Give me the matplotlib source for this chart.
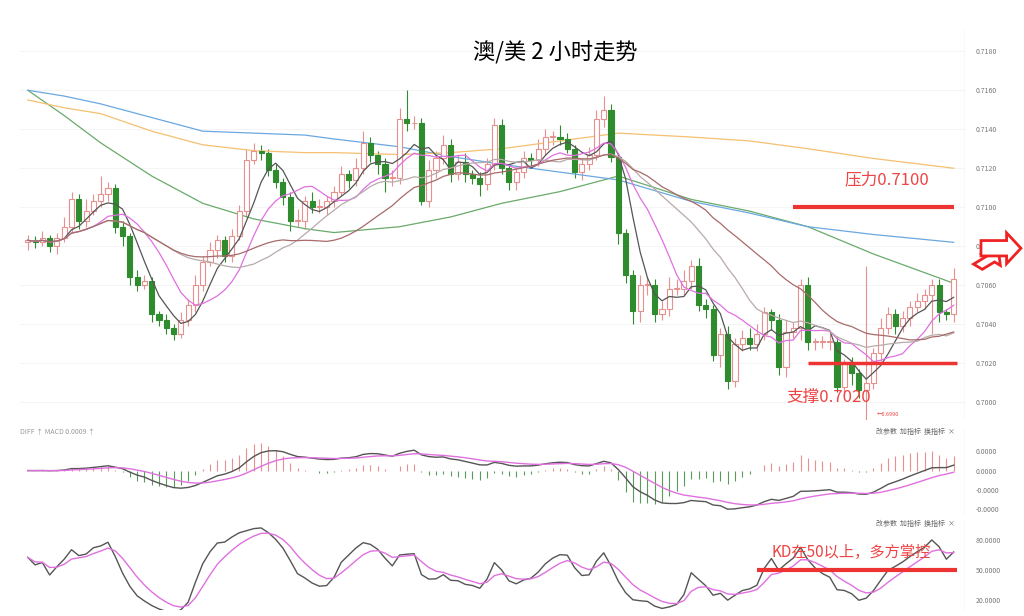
import numpy as np, pandas as pd
import matplotlib; matplotlib.use("Agg")
import matplotlib.pyplot as plt
from matplotlib.patches import FancyArrow

plt.rcParams["font.family"] = ["Noto Sans CJK SC", "DejaVu Sans"]

# ---- data ----
closes = [0.7083, 0.7082, 0.7084, 0.7080, 0.7084, 0.7090, 0.7104, 0.7093, 0.7098, 0.7103,
          0.7107, 0.7110, 0.7090, 0.7085, 0.7064, 0.7060, 0.7062, 0.7045, 0.7042, 0.7038,
          0.7035, 0.7042, 0.7050, 0.7060, 0.7072, 0.7078, 0.7083, 0.7075, 0.7085, 0.7098,
          0.7124, 0.7129, 0.7128, 0.7119, 0.7113, 0.7105, 0.7093, 0.7093, 0.7103, 0.7100,
          0.7100, 0.7103, 0.7108, 0.7117, 0.7114, 0.7120, 0.7133, 0.7127, 0.7122, 0.7115,
          0.7115, 0.7145, 0.7143, 0.7143, 0.7103, 0.7119, 0.7125, 0.7132, 0.7117, 0.7123,
          0.7117, 0.7115, 0.7112, 0.7122, 0.7142, 0.7120, 0.7113,
          0.7118, 0.7125, 0.7124, 0.7130, 0.7136, 0.7136, 0.7135, 0.7130, 0.7118, 0.7122,
          0.7127, 0.7145, 0.7150, 0.7126, 0.7087, 0.7065, 0.7047, 0.7060, 0.7060, 0.7045,
          0.7048, 0.7058, 0.7058, 0.7062, 0.7070, 0.7050, 0.7048, 0.7024, 0.7035, 0.7011,
          0.7030, 0.7033, 0.7030, 0.7035, 0.7046, 0.7042, 0.7018, 0.7036, 0.7038, 0.7060,
          0.7031, 0.7031, 0.7031, 0.7031, 0.7008, 0.7020, 0.7015, 0.7006, 0.7010, 0.7025,
          0.7038, 0.7045, 0.7039, 0.7043, 0.7049, 0.7052, 0.7055, 0.7060, 0.7046, 0.7045,
          0.7063]
first_open = 0.7082
# wick lengths in pips (0.0001)
up_wick = [3, 2, 4, 2, 3, 5, 4, 3, 6, 4, 9, 3, 2, 3, 2, 4, 3, 2, 2, 3,
           2, 4, 3, 5, 3, 4, 3, 2, 4, 3, 6, 4, 3, 2, 3, 2, 3, 6, 3, 5,
           4, 3, 3, 4, 2, 5, 6, 3, 2, 3, 4, 6, 15, 4, 3, 5, 4, 5, 3, 4,
           5, 2, 3, 3, 4, 3, 2, 3, 4, 3, 5, 4, 3, 6, 3, 2, 3, 4, 5, 7,
           3, 2, 2, 3, 5, 4, 3, 4, 6, 5, 6, 3, 4, 3, 2, 3, 4, 3, 4, 5,
           5, 3, 2, 3, 6, 3, 3, 4, 2, 3, 4, 3, 2, 3, 2, 60, 3, 5, 4, 3,
           4, 3, 4, 3, 3, 3, 2, 6]
dn_wick = [4, 3, 2, 3, 4, 2, 3, 4, 3, 2, 3, 4, 3, 5, 4, 3, 2, 4, 3, 3,
           3, 2, 3, 4, 3, 2, 4, 3, 3, 2, 3, 2, 4, 3, 3, 4, 5, 3, 4, 3,
           3, 4, 3, 2, 4, 3, 3, 4, 5, 7, 4, 3, 4, 3, 2, 3, 4, 3, 4, 3,
           4, 3, 6, 3, 3, 3, 4, 4, 3, 4, 3, 3, 4, 3, 2, 3, 4, 3, 3, 4,
           3, 6, 4, 7, 6, 5, 4, 3, 4, 3, 3, 4, 3, 5, 3, 6, 4, 3, 4, 3,
           4, 3, 5, 4, 5, 3, 6, 4, 4, 3, 4, 3, 5, 6, 4, 17, 3, 4, 3, 4,
           3, 4, 3, 4, 20, 5, 3, 4]

# long moving averages, sampled at candle positions
ma_idx = [0, 5, 10, 17, 24, 31, 38, 42, 51, 58, 65, 73, 81, 91, 99, 107, 116, 127]
ma_green = [0.7160, 0.7147, 0.7133, 0.7116, 0.7102, 0.7094, 0.7089, 0.7087, 0.7090, 0.7095,
            0.7102, 0.7108, 0.7116, 0.7104, 0.7098, 0.7090, 0.7076, 0.7061]
ma_blue = [0.7160, 0.7157, 0.7153, 0.7146, 0.7139, 0.7138, 0.7137, 0.7135, 0.7131, 0.7126,
           0.7122, 0.7118, 0.7114, 0.7103, 0.7097, 0.7090, 0.7086, 0.7082]
ma_orange = [0.7155, 0.7151, 0.7148, 0.7139, 0.7132, 0.7129, 0.7128, 0.7128, 0.7127, 0.7128,
             0.7130, 0.7134, 0.7138, 0.7136, 0.7134, 0.7130, 0.7125, 0.7120]

price_ticks = [0.7000, 0.7020, 0.7040, 0.7060, 0.7080, 0.7100, 0.7120, 0.7140, 0.7160, 0.7180]

# ---- derived ----
c = pd.Series(closes)
o = pd.Series([first_open] + closes[:-1])
hi = np.maximum(o, c) + np.array(up_wick) * 1e-4
lo = np.minimum(o, c) - np.array(dn_wick) * 1e-4
x = np.arange(len(c))
n = len(c)

fig = plt.figure(figsize=(10.24, 6.16), dpi=100)
W = 0.922
ax = fig.add_axes([0.02, 0.318, W, 0.633])
am = fig.add_axes([0.02, 0.164, W, 0.141])
ak = fig.add_axes([0.02, 0.01, W, 0.146])

for a in (ax, am, ak):
    for s in a.spines.values(): s.set_visible(False)
    a.set_xticks([])
    a.yaxis.tick_right()
    a.tick_params(axis="y", length=0, labelsize=5, labelcolor="#777777", pad=8)
    a.set_xlim(-1, n + 0.5)
    a.axvline(n + 0.5, color="#dddddd", lw=1)

# candles
up = c >= o
UPC, DNC = "#e89090", "#2e8b2e"
for i in x:
    col = UPC if up[i] else DNC
    ax.vlines(i, lo[i], hi[i], color=col, lw=0.8)
    bot, h = min(o[i], c[i]), max(abs(c[i] - o[i]), 0.00004)
    ax.bar(i, h, bottom=bot, width=0.7, facecolor="white" if up[i] else DNC,
           edgecolor=col, lw=0.8, zorder=3)

ax.plot(x, c.rolling(5, min_periods=1).mean(), color="#555555", lw=0.9, zorder=4)
ax.plot(x, c.rolling(10, min_periods=1).mean(), color="#e070e0", lw=0.9, zorder=4)
ax.plot(x, c.rolling(20, min_periods=1).mean(), color="#b8aaaa", lw=0.9, zorder=4)
ax.plot(x, c.rolling(30, min_periods=1).mean(), color="#a86a6a", lw=0.9, zorder=4)
ax.plot(ma_idx, ma_green, color="#6aaa6a", lw=0.9)
ax.plot(ma_idx, ma_blue, color="#6aa8e0", lw=0.9)
ax.plot(ma_idx, ma_orange, color="#f5c070", lw=0.9)

ax.set_ylim(0.69908, 0.71908)
ax.set_yticks(price_ticks)
ax.set_yticklabels([f"{v:.4f}" for v in price_ticks])
for v in price_ticks:
    ax.axhline(v, color="#f2f2f2", lw=0.6, zorder=0)

ax.hlines(0.7100, 105, n - 1, color="#ee3333", lw=3, zorder=6)
ax.hlines(0.7020, 107, n - 0.5, color="#ee3333", lw=2.5, zorder=6)
ax.text(112, 0.7112, "压力0.7100", color="#ee4444", fontsize=12, zorder=7)
ax.text(104, 0.7000, "支撑0.7020", color="#ee4444", fontsize=12, zorder=7)
ax.text(116.5, 0.6993, "←0.6990", color="#ee4444", fontsize=4)
fig.text(0.542, 0.915, "澳/美 2 小时走势", fontsize=16, ha="center", va="center")

# red outline arrows
fig.patches.append(FancyArrow(0.955, 0.567, 0.012, 0.012, width=0.012, head_width=0.028,
                              head_length=0.012, transform=fig.transFigure,
                              facecolor="white", edgecolor="#ee2222", lw=2))
fig.patches.append(FancyArrow(0.958, 0.597, 0.025, 0, width=0.025, head_width=0.05,
                              head_length=0.014, transform=fig.transFigure,
                              facecolor="white", edgecolor="#ee2222", lw=2))

# MACD
dif = c.ewm(span=12).mean() - c.ewm(span=26).mean()
dea = dif.ewm(span=9).mean()
hist = 2 * (dif - dea)
am.vlines(x, 0, hist, colors=np.where(hist >= 0, "#e89090", "#5a9a5a"), lw=0.8)
am.plot(x, dif, color="#555555", lw=1)
am.plot(x, dea, color="#e070e0", lw=1)
m = float(np.abs(np.r_[dif, hist]).max())
am.set_ylim(-1.15 * m, 1.1 * m)
am.set_yticks([-m, -m / 2, 0, m / 2])
am.set_yticklabels(["-0.0000", "-0.0000", "0.0000", "0.0000"])
am.text(0.0, 1.0, "DIFF ↑ MACD 0.0009 ↑", transform=am.transAxes, fontsize=5, color="#999999", va="top")
am.text(0.99, 1.0, "改参数  加指标  换指标  ×", transform=am.transAxes, fontsize=5, color="#666666", va="top", ha="right")

# KD
ll = pd.Series(lo).rolling(9, min_periods=1).min()
hh = pd.Series(hi).rolling(9, min_periods=1).max()
rsv = 100 * (c - ll) / (hh - ll)
k = rsv.ewm(com=2).mean()
d = k.ewm(com=2).mean()
ak.plot(x, k, color="#555555", lw=1)
ak.plot(x, d, color="#e070e0", lw=1)
ak.set_ylim(10, 100)
ak.set_yticks([20, 50, 80])
ak.set_yticklabels(["20.0000", "50.0000", "80.0000"])
ak.hlines(50, 100, n - 0.5, color="#ee3333", lw=3)
ak.text(102, 63, "KD在50以上，多方掌控", color="#ee4444", fontsize=11)
ak.text(0.99, 1.0, "改参数  加指标  换指标  ×", transform=ak.transAxes, fontsize=5, color="#666666", va="top", ha="right")

fig.savefig("out.png", dpi=100)
